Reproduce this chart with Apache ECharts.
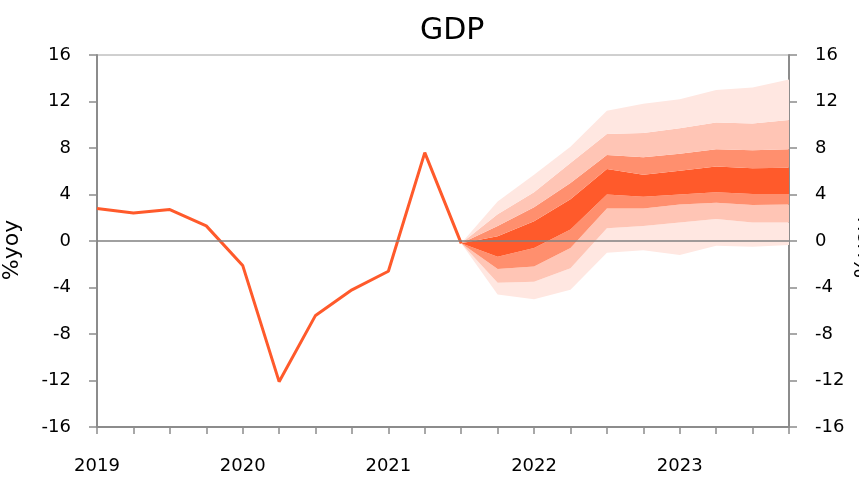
<!DOCTYPE html>
<html>
<head>
<meta charset="utf-8">
<script src="https://cdn.jsdelivr.net/npm/echarts@6/dist/echarts.min.js"></script>
<style>html,body{margin:0;padding:0;background:#fff;}#c{width:859px;height:497px;}</style>
</head>
<body>
<div id="c"></div>
<script>
const quarters = ['2019Q1','2019Q2','2019Q3','2019Q4','2020Q1','2020Q2','2020Q3','2020Q4',
  '2021Q1','2021Q2','2021Q3','2021Q4','2022Q1','2022Q2','2022Q3','2022Q4',
  '2023Q1','2023Q2','2023Q3','2023Q4'];
const yTicks = [-16,-12,-8,-4,0,4,8,12,16];
const history = [2.8, 2.4, 2.7, 1.3, -2.1, -12.1, -6.4, -4.2, -2.6, 7.6, -0.2];
// fan bounds from 2021Q3 to 2023Q4
const fanStart = 10;
const outerHigh = [-0.2, 3.4, 5.7, 8.1, 11.2, 11.8, 12.2, 13.0, 13.2, 13.9];
const midHigh   = [-0.2, 2.3, 4.2, 6.7, 9.2, 9.3, 9.7, 10.2, 10.1, 10.4];
const innerHigh = [-0.2, 1.3, 2.9, 5.0, 7.4, 7.2, 7.5, 7.9, 7.8, 7.9];
const centHigh  = [-0.2, 0.4, 1.7, 3.6, 6.2, 5.7, 6.05, 6.4, 6.25, 6.3];
const centLow   = [-0.2, -1.35, -0.6, 1.0, 4.0, 3.8, 4.0, 4.2, 4.05, 4.05];
const innerLow  = [-0.2, -2.4, -2.2, -0.6, 2.8, 2.8, 3.15, 3.3, 3.1, 3.15];
const midLow    = [-0.2, -3.6, -3.5, -2.35, 1.1, 1.3, 1.6, 1.9, 1.6, 1.6];
const outerLow  = [-0.2, -4.6, -5.0, -4.2, -1.0, -0.8, -1.2, -0.4, -0.5, -0.35];

const cLine = '#FF5A2B', cInner = '#FF8F6E', cMid = '#FFC5B5', cOuter = '#FFE7E1';
const font = 'DejaVu Sans';

function pad(arr){ const out = []; for(let i=0;i<fanStart;i++) out.push('-'); return out.concat(arr); }
function diff(a,b){ return a.map((v,i)=> +(v - b[i]).toFixed(3)); }

const bands = [
  {data: outerLow, color: null},
  {data: diff(midLow, outerLow), color: cOuter},
  {data: diff(innerLow, midLow), color: cMid},
  {data: diff(centLow, innerLow), color: cInner},
  {data: diff(centHigh, centLow), color: cLine},
  {data: diff(innerHigh, centHigh), color: cInner},
  {data: diff(midHigh, innerHigh), color: cMid},
  {data: diff(outerHigh, midHigh), color: cOuter}
];

const series = bands.map((b,i)=>({
  type:'line', stack:'fan', stackStrategy:'all', symbol:'none', silent:true,
  data: pad(b.data), lineStyle:{width:0, opacity:0},
  areaStyle: b.color ? {color:b.color, opacity:1} : undefined,
  z: 1
}));
series.push({
  type:'line', data: history, symbol:'none', silent:true,
  lineStyle:{color:cLine, width:3}, z:3,
  markLine:{silent:true, symbol:'none', label:{show:false},
    lineStyle:{color:'#808080', width:1.5, type:'solid'},
    data:[{yAxis:0}]}
});

const yCommon = {
  type:'value', min:-16, max:16, interval:4,
  axisLine:{show:true, onZero:false, lineStyle:{color:'#8c8c8c', width:2}},
  axisTick:{show:true, length:8, lineStyle:{color:'#8c8c8c', width:1.5}},
  splitLine:{show:false},
  axisLabel:{color:'#000', fontSize:18, fontFamily:font, margin:26,
    formatter:(v)=> yTicks.includes(v) ? String(v) : ''},
  name:'%yoy', nameLocation:'middle', nameRotate:90, nameMoveOverlap:false
};

const chart = echarts.init(document.getElementById('c'), null, {renderer:'canvas'});
chart.setOption({
  animation:false,
  backgroundColor:'#fff',
  title:{text:'GDP', left:415, top:11, textStyle:{color:'#000', fontSize:30, fontWeight:'normal', fontFamily:font}},
  grid:{left:97, right:70, top:55, bottom:70, containLabel:false, outerBoundsMode:'none',
    show:true, borderColor:'#a0a0a0', borderWidth:1, backgroundColor:'transparent'},
  xAxis:{
    type:'category', data:quarters, boundaryGap:false,
    axisLine:{onZero:false, lineStyle:{color:'#8c8c8c', width:2}},
    axisTick:{show:true, interval:0, length:7, lineStyle:{color:'#8c8c8c', width:1.5}},
    axisLabel:{interval:3, color:'#000', fontSize:18, fontFamily:font, margin:30,
      formatter:(v)=> v.slice(0,4)},
    splitLine:{show:false}
  },
  yAxis:[
    Object.assign({}, yCommon, {position:'left', nameGap:74,
      nameTextStyle:{color:'#000', fontSize:22, fontFamily:font, padding:[0,18,0,0]}}),
    Object.assign({}, yCommon, {position:'right', nameGap:64,
      nameTextStyle:{color:'#000', fontSize:22, fontFamily:font, padding:[0,14,0,0]}})
  ],
  series: series
});
</script>
</body>
</html>
